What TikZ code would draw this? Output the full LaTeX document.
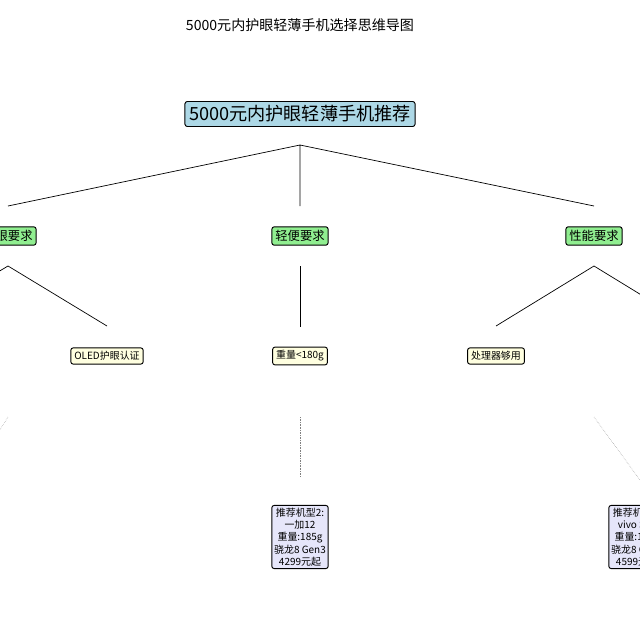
\documentclass[tikz,border=0pt]{standalone}
\usepackage{fontspec}
\setmainfont{Noto Sans CJK SC}
\usetikzlibrary{positioning}
\definecolor{rootblue}{HTML}{ADD8E6}
\definecolor{reqgreen}{HTML}{90EE90}
\definecolor{subyellow}{HTML}{FFFFE0}
\definecolor{leafblue}{HTML}{E6E6FA}
\begin{document}
\begin{tikzpicture}[x=0.03cm,y=-0.03cm,
  root node/.style={draw,thick,rounded corners=2pt,fill=rootblue,font=\fontsize{15.5}{17}\selectfont,inner sep=3.5pt},
  req node/.style={draw,thick,rounded corners=2pt,fill=reqgreen,font=\fontsize{10.5}{12}\selectfont,inner sep=3pt},
  sub node/.style={draw,thick,rounded corners=2pt,fill=subyellow,font=\fontsize{8.5}{10}\selectfont,inner sep=3pt},
  leaf node/.style={draw,thick,rounded corners=2pt,fill=leafblue,font=\fontsize{8.5}{10.5}\selectfont,align=center,inner sep=2pt},
  link/.style={semithick},
  hint/.style={densely dotted,gray}]
  \useasboundingbox (0,0) rectangle (640,640);
  \clip (0,0) rectangle (640,640);
  \fill[white] (0,0) rectangle (640,640);

  \node[font=\fontsize{12}{14}\selectfont] (title) at (300,25) {5000元内护眼轻薄手机选择思维导图};
  \node[root node] (root) at (300,114) {5000元内护眼轻薄手机推荐};

  \node[req node] (eye) at (8,236) {护眼要求};
  \node[req node] (light) at (300,236) {轻便要求};
  \node[req node] (perf) at (594,236) {性能要求};

  \node[sub node] (oled) at (107,356) {OLED护眼认证};
  \node[sub node] (weight) at (300,356) {重量<180g};
  \node[sub node] (cpu) at (496,356) {处理器够用};

  \node[leaf node] (pick2) at (300,537) {推荐机型2:\\一加12\\重量:185g\\骁龙8 Gen3\\4299元起};
  \node[leaf node] (pick3) at (637,537) {推荐机型3:\\vivo S19\\重量:187g\\骁龙8 Gen3\\4599元起};

  % branch points
  \coordinate (r0) at (300,145);
  \coordinate (e0) at (8,266);
  \coordinate (l0) at (300,266);
  \coordinate (p0) at (594,266);
  \coordinate (eL) at (-92,326);
  \coordinate (pR) at (692,326);

  \draw[link] (r0) -- (8,206) (r0) -- (300,206) (r0) -- (594,206);
  \draw[link] (e0) -- (eL) (e0) -- (107,326);
  \draw[link] (l0) -- (300,327);
  \draw[link] (p0) -- (496,326) (p0) -- (pR);

  \draw[hint] (8,417) -- (-30,477);
  \draw[hint] (300,417) -- (300,477);
  \draw[hint] (594,417) -- (640,480);
\end{tikzpicture}
\end{document}
